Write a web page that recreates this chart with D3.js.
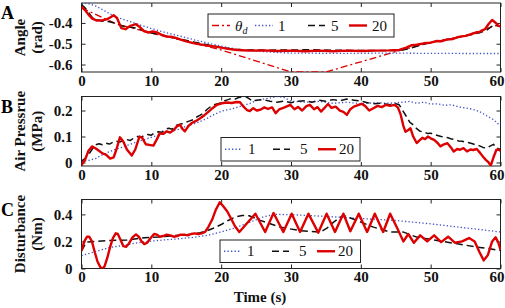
<!DOCTYPE html>
<html lang="en">
<head>
<meta charset="utf-8" />
<title>Angle, air pressure and disturbance</title>
<script src="https://cdn.jsdelivr.net/npm/d3@7"></script>
<style>
body { margin: 0; background: white; }
svg text { font-family: "Liberation Serif", "Times New Roman", serif; }
</style>
</head>
<body>
<script>
// ---- data (time in s) ----
// panel A: angle (rad)
var thetaDT = [0, 5, 10, 15, 20, 30, 35, 45, 50, 55, 58, 60];
var thetaD  = [-0.327, -0.405, -0.449, -0.488, -0.530, -0.636, -0.636, -0.538, -0.494, -0.460, -0.427, -0.405];

var angle1T = [0,1,2,3,4,5,6,7,8,9,10,12,14,16,18,20,22,24,26,28,30,35,40,45,48,50,55,60];
var angle1  = [-0.304,-0.307,-0.318,-0.336,-0.355,-0.372,-0.383,-0.394,-0.405,-0.416,-0.427,-0.446,-0.462,-0.480,-0.496,-0.512,-0.525,-0.532,-0.538,-0.542,-0.545,-0.546,-0.546,-0.545,-0.546,-0.546,-0.547,-0.547];

var angle5T = [0,0.5,1,1.5,2,3,4,5,6,7,8,9,10,11,12,14,16,18,20,22,24,27,30,33,36,39,42,45,46,47,48,49,50,51,52,53,54,55,56,57,58,59,60];
var angle5  = [-0.311,-0.327,-0.349,-0.372,-0.383,-0.392,-0.394,-0.403,-0.416,-0.421,-0.425,-0.438,-0.449,-0.455,-0.462,-0.477,-0.491,-0.505,-0.518,-0.527,-0.530,-0.531,-0.530,-0.529,-0.531,-0.532,-0.532,-0.533,-0.530,-0.522,-0.512,-0.502,-0.494,-0.487,-0.482,-0.476,-0.469,-0.462,-0.456,-0.447,-0.436,-0.410,-0.416];

var angle20T = [0,0.5,1,1.5,2.2,3,3.6,4.1,4.6,5.1,5.7,6.3,7,7.8,8.4,9,9.6,10.2,10.8,11.5,12.2,12.8,13.4,14.2,15,16,17,18,19,20,21,22,23,24,26,28,30,32,34,36,38,40,42,44,45.5,46.5,47.3,48,49,50,50.8,51.5,52.3,53.2,54,55,56,57,57.8,58.3,58.8,59.3,59.7,60];
var angle20  = [-0.322,-0.338,-0.360,-0.378,-0.389,-0.387,-0.383,-0.374,-0.363,-0.377,-0.425,-0.430,-0.414,-0.406,-0.421,-0.440,-0.446,-0.441,-0.445,-0.458,-0.466,-0.466,-0.471,-0.480,-0.489,-0.497,-0.503,-0.509,-0.513,-0.519,-0.525,-0.529,-0.531,-0.533,-0.532,-0.535,-0.533,-0.536,-0.533,-0.536,-0.533,-0.535,-0.533,-0.532,-0.530,-0.519,-0.507,-0.505,-0.498,-0.495,-0.487,-0.488,-0.480,-0.477,-0.467,-0.462,-0.451,-0.443,-0.429,-0.405,-0.386,-0.399,-0.414,-0.416];

// panel B: air pressure (MPa)
var pres1T = [0,1,2,3,4,5,6,7,8,9,10,11,12,13,14,15,16,17,18,19,20,21,22,23,24,25,26,27,28,29,30,32,34,36,38,40,42,44,46,47,48,49,50,51,52,53,54,55,56,57,58,59,60];
var pres1  = [0.004,0.008,0.015,0.03,0.042,0.052,0.06,0.07,0.08,0.088,0.097,0.105,0.113,0.12,0.128,0.14,0.148,0.158,0.17,0.185,0.197,0.203,0.21,0.218,0.226,0.238,0.244,0.248,0.254,0.25,0.236,0.232,0.235,0.228,0.232,0.226,0.23,0.228,0.232,0.235,0.228,0.232,0.225,0.226,0.22,0.222,0.214,0.21,0.205,0.196,0.18,0.165,0.14];

var pres5T = [0,0.5,1,1.5,2,2.5,3,3.5,4,4.5,5,5.5,6,6.5,7,7.5,8,8.5,9,9.5,10,10.5,11,11.5,12,12.5,13,13.5,14,14.5,15,15.5,16,16.5,17,17.5,18,18.5,19,19.5,20,20.5,21,21.5,22,22.5,23,23.5,24,24.5,25,26,27,28,29,30,31,32,33,34,35,36,37,38,39,40,41,42,43,44,45,45.5,46,46.5,47,47.5,48,48.5,49,49.5,50,50.5,51,51.5,52,52.5,53,53.5,54,54.5,55,55.5,56,56.5,57,57.5,58,58.5,59,59.5,60];
var pres5  = [0.005,0.015,0.03,0.05,0.068,0.072,0.068,0.074,0.071,0.078,0.082,0.079,0.086,0.088,0.085,0.094,0.1,0.097,0.104,0.108,0.105,0.115,0.118,0.116,0.128,0.132,0.128,0.142,0.146,0.15,0.155,0.16,0.165,0.175,0.182,0.19,0.205,0.215,0.222,0.226,0.23,0.238,0.242,0.247,0.244,0.25,0.253,0.254,0.246,0.235,0.24,0.242,0.236,0.232,0.236,0.23,0.236,0.238,0.232,0.24,0.236,0.242,0.238,0.244,0.24,0.236,0.23,0.226,0.228,0.222,0.226,0.222,0.2,0.178,0.155,0.145,0.13,0.12,0.118,0.112,0.113,0.108,0.104,0.1,0.097,0.095,0.09,0.088,0.083,0.082,0.078,0.076,0.072,0.068,0.064,0.058,0.055,0.063,0.07,0.055,0.05];

var pres20T = [0,0.5,1,1.5,2,2.5,3,3.5,4.1,4.6,5,5.5,6,6.5,7.2,7.7,8.3,8.7,9.2,9.7,10.3,10.8,11.2,11.7,12.2,12.7,13.2,13.7,14.1,14.5,14.8,15.3,15.8,16.4,17,17.6,18.2,18.8,19.4,20.1,20.8,21.5,22.2,22.7,23.2,23.7,24.1,24.6,25.1,25.6,26.2,26.7,27.3,27.8,28.3,28.9,29.4,29.9,30.5,31,31.6,32.2,32.7,33.3,33.8,34.3,34.8,35.3,35.8,36.4,37,37.5,38,38.5,39,39.5,40.1,40.6,41.2,41.8,42.4,43,43.6,44.2,44.8,45.3,45.7,46.1,46.4,46.8,47.1,47.5,48,48.4,48.8,49.2,49.6,50,50.5,51,51.4,51.9,52.4,52.9,53.3,53.8,54.2,54.7,55.2,55.7,56.1,56.6,57.1,57.5,57.9,58.3,58.6,59,59.4,59.7,60];
var pres20  = [-0.01,0.01,0.045,0.062,0.055,0.045,0.035,0.03,0.015,0.02,0.05,0.097,0.08,0.05,0.027,0.05,0.1,0.095,0.07,0.068,0.065,0.09,0.112,0.11,0.12,0.115,0.125,0.14,0.145,0.128,0.12,0.14,0.152,0.16,0.17,0.182,0.196,0.21,0.222,0.228,0.231,0.229,0.233,0.232,0.215,0.202,0.198,0.209,0.2,0.203,0.212,0.206,0.212,0.19,0.204,0.21,0.216,0.222,0.205,0.214,0.2,0.217,0.222,0.205,0.213,0.196,0.21,0.225,0.21,0.215,0.2,0.195,0.183,0.205,0.215,0.22,0.226,0.218,0.2,0.209,0.218,0.213,0.222,0.218,0.222,0.212,0.185,0.14,0.118,0.125,0.132,0.1,0.075,0.085,0.095,0.09,0.1,0.093,0.087,0.075,0.062,0.07,0.074,0.058,0.042,0.052,0.049,0.055,0.043,0.05,0.048,0.052,0.036,0.022,0.01,0.0,-0.012,0.02,0.048,0.05,0.045];

// panel C: disturbance (Nm)
var dist1T = [0,1,2,4,6,8,10,12,14,16,18,20,22,24,26,27.5,30,35,40,45,50,55,60];
var dist1  = [0.095,0.11,0.125,0.155,0.17,0.19,0.202,0.212,0.22,0.23,0.245,0.27,0.3,0.34,0.38,0.40,0.398,0.385,0.37,0.355,0.33,0.30,0.27];

var dist5T = [0,0.7,1.5,4,6.5,9,11,13.5,15,16,17,18,19,20,21,22,23,24,25.6,28.4,31.3,34.2,35.2,36.1,37.5,39.4,41.8,44.2,46.1,48,50.9,53.8,56.6,58.5,60];
var dist5  = [0.13,0.195,0.198,0.207,0.21,0.228,0.232,0.244,0.25,0.255,0.265,0.28,0.3,0.325,0.355,0.38,0.392,0.39,0.356,0.306,0.28,0.269,0.3,0.343,0.393,0.356,0.306,0.269,0.269,0.232,0.207,0.183,0.158,0.146,0.133];

var dist20T = [0,0.4,0.8,1.1,1.5,1.9,2.3,2.7,3,3.3,3.7,4.1,4.5,4.9,5.2,5.6,6,6.4,6.8,7.3,7.8,8.2,8.6,9,9.4,9.9,10.4,10.8,11.2,11.7,12.2,12.7,13.2,13.7,14.2,14.7,15.2,15.7,16.2,16.7,17.2,17.7,18.2,18.7,19.2,19.8,20.3,20.9,21.5,22,22.6,24.9,26.3,27.5,28.9,30.1,31.3,32.5,33.9,35.1,36.3,37.5,38.5,39.7,40.9,42,43.2,44.2,45.2,46.1,46.8,47.6,48.5,49.5,50.5,51.5,52.5,53.5,54.5,55.5,56.3,57,57.6,58.2,58.8,59.3,59.7,60];
var dist20  = [0.13,0.2,0.235,0.235,0.2,0.12,0.05,0.01,0.0,0.015,0.08,0.16,0.225,0.26,0.255,0.21,0.165,0.16,0.185,0.23,0.252,0.235,0.2,0.18,0.19,0.225,0.255,0.25,0.235,0.24,0.25,0.245,0.235,0.24,0.25,0.25,0.245,0.255,0.26,0.255,0.26,0.27,0.31,0.36,0.43,0.49,0.46,0.42,0.36,0.31,0.27,0.405,0.27,0.41,0.27,0.405,0.27,0.405,0.265,0.405,0.27,0.405,0.275,0.405,0.27,0.405,0.27,0.405,0.30,0.20,0.255,0.19,0.245,0.2,0.245,0.195,0.235,0.19,0.2,0.225,0.2,0.12,0.06,0.1,0.2,0.23,0.19,0.14];

var timeTicks = [0, 10, 20, 30, 40, 50, 60];

// ---- layout ----
var w = 505, h = 308;
var left = 81.5, right = 500.5;
var svg = d3.select("body").append("svg").attr("width", w).attr("height", h);

var x = d3.scaleLinear().domain([0, 60]).range([left, right]);

var red = "#dd0000", blue = "#3f51c8", black = "#111";
var styles = {
  thetaD: { color: red, width: 1.3, dash: "7,3,2,3" },
  s1: { color: blue, width: 1.3, dash: "1.3,2.2" },
  s5: { color: black, width: 1.5, dash: "7,4" },
  s20: { color: red, width: 2.4, dash: null }
};

function panel(id, top, bottom, domain, ticks, fmt, title1, title2) {
  var y = d3.scaleLinear().domain(domain).range([bottom, top]);
  var g = svg.append("g").attr("id", "panel" + id);

  g.append("clipPath").attr("id", "clip" + id)
   .append("rect").attr("x", left).attr("y", top)
   .attr("width", right - left).attr("height", bottom - top);

  // axes: ticks inward on all four sides
  var bx = g.append("g").attr("transform", "translate(0," + bottom + ")")
            .call(d3.axisBottom(x).tickValues(timeTicks).tickSizeInner(-4)
                    .tickSizeOuter(0).tickPadding(3));
  var tx = g.append("g").attr("transform", "translate(0," + top + ")")
            .call(d3.axisTop(x).tickValues(timeTicks).tickSizeInner(-4)
                    .tickSizeOuter(0).tickFormat(""));
  var ly = g.append("g").attr("transform", "translate(" + left + ",0)")
            .call(d3.axisLeft(y).tickValues(ticks).tickSizeInner(-4)
                    .tickSizeOuter(0).tickPadding(9).tickFormat(fmt));
  var ry = g.append("g").attr("transform", "translate(" + right + ",0)")
            .call(d3.axisRight(y).tickValues(ticks).tickSizeInner(-4)
                    .tickSizeOuter(0).tickFormat(""));
  [bx, tx, ly, ry].forEach(function(a) {
    a.select(".domain").remove();
    a.selectAll("line").attr("stroke", "#222");
    a.selectAll("text")
     .attr("font-family", "Liberation Serif, serif")
     .attr("font-weight", "bold")
     .attr("font-size", "15px")
     .attr("fill", "#111");
  });
  // last time label sits against the window edge
  bx.selectAll(".tick text").filter(function(d) { return d === 60; }).attr("dx", -4);

  g.append("rect").attr("x", left).attr("y", top)
   .attr("width", right - left).attr("height", bottom - top)
   .attr("fill", "none").attr("stroke", "#222").attr("stroke-width", 1);

  // y title, two rotated lines
  var mid = (top + bottom) / 2;
  [[title1, 25], [title2, 42]].forEach(function(t) {
    g.append("text")
     .attr("transform", "translate(" + t[1] + "," + mid + ") rotate(-90)")
     .attr("text-anchor", "middle")
     .attr("font-weight", "bold")
     .attr("font-size", "15px")
     .attr("fill", "#111")
     .text(t[0]);
  });

  // panel letter
  g.append("text")
   .attr("x", 1).attr("y", top + 16)
   .attr("font-family", "Liberation Sans, Arial, sans-serif")
   .attr("font-weight", "bold")
   .attr("font-size", "18px")
   .attr("fill", "#000")
   .text(id);

  g.lines = g.append("g").attr("clip-path", "url(#clip" + id + ")");
  g.y = y;
  return g;
}

function drawLine(p, ts, vs, st) {
  var pts = ts.map(function(t, i) { return [t, vs[i]]; });
  var line = d3.line()
               .x(function(d) { return x(d[0]); })
               .y(function(d) { return p.y(d[1]); });
  var path = p.lines.append("path")
              .datum(pts)
              .attr("d", line)
              .attr("fill", "none")
              .attr("stroke", st.color)
              .attr("stroke-width", st.width)
              .attr("stroke-linejoin", "round");
  if (st.dash) path.attr("stroke-dasharray", st.dash);
}

function legend(box, items) {
  var g = svg.append("g");
  g.append("rect").attr("x", box[0]).attr("y", box[1])
   .attr("width", box[2]).attr("height", box[3])
   .attr("fill", "white").attr("stroke", "#222").attr("stroke-width", 1);
  var cy = box[1] + box[3] / 2;
  items.forEach(function(it) {
    var l = g.append("line")
             .attr("x1", it.x0).attr("x2", it.x1)
             .attr("y1", cy).attr("y2", cy)
             .attr("stroke", it.st.color)
             .attr("stroke-width", it.st.width);
    if (it.st.dash) l.attr("stroke-dasharray", it.st.dash);
    var t = g.append("text").attr("x", it.tx).attr("y", cy + 5)
             .attr("font-size", "15px").attr("fill", "#111");
    if (it.label === "theta") {
      t.append("tspan").attr("font-style", "italic").text("θ");
      t.append("tspan").attr("font-style", "italic").attr("font-size", "10px")
       .attr("dy", 3).text("d");
    } else {
      t.text(it.label);
    }
  });
}

var oneDec = function(d) { return d === 0 ? "0" : d.toFixed(1); };

var pA = panel("A", 3, 72, [-0.636, -0.304], [-0.4, -0.5, -0.6], oneDec, "Angle", "(rad)");
drawLine(pA, thetaDT, thetaD, styles.thetaD);
drawLine(pA, angle1T, angle1, styles.s1);
drawLine(pA, angle5T, angle5, styles.s5);
drawLine(pA, angle20T, angle20, styles.s20);

var pB = panel("B", 96.5, 166, [-0.0135, 0.254], [0, 0.1, 0.2], oneDec, "Air Pressrue", "(MPa)");
drawLine(pB, pres1T, pres1, styles.s1);
drawLine(pB, pres5T, pres5, styles.s5);
drawLine(pB, pres20T, pres20, styles.s20);

var pC = panel("C", 199.5, 268.5, [0, 0.51], [0, 0.2, 0.4], oneDec, "Disturbance", "(Nm)");
drawLine(pC, dist1T, dist1, styles.s1);
drawLine(pC, dist5T, dist5, styles.s5);
drawLine(pC, dist20T, dist20, styles.s20);

legend([208, 14, 186, 23], [
  { st: styles.thetaD, x0: 212, x1: 230, tx: 235, label: "theta" },
  { st: styles.s1, x0: 255, x1: 273, tx: 278, label: "1" },
  { st: styles.s5, x0: 308, x1: 325, tx: 331, label: "5" },
  { st: styles.s20, x0: 349, x1: 367, tx: 372, label: "20" }
]);
[[221, 137.5, 139, 23.5], [220, 240, 140.5, 22.5]].forEach(function(b) {
  var dx = b[0] - 221;
  legend(b, [
    { st: styles.s1, x0: 225 + dx, x1: 242 + dx, tx: 248 + dx, label: "1" },
    { st: styles.s5, x0: 273 + dx, x1: 290 + dx, tx: 300 + dx, label: "5" },
    { st: styles.s20, x0: 318 + dx, x1: 336 + dx, tx: 339 + dx, label: "20" }
  ]);
});

svg.append("text")
   .attr("x", 260).attr("y", 302)
   .attr("text-anchor", "middle")
   .attr("font-weight", "bold")
   .attr("font-size", "15px")
   .attr("fill", "#111")
   .text("Time (s)");
</script>
</body>
</html>
